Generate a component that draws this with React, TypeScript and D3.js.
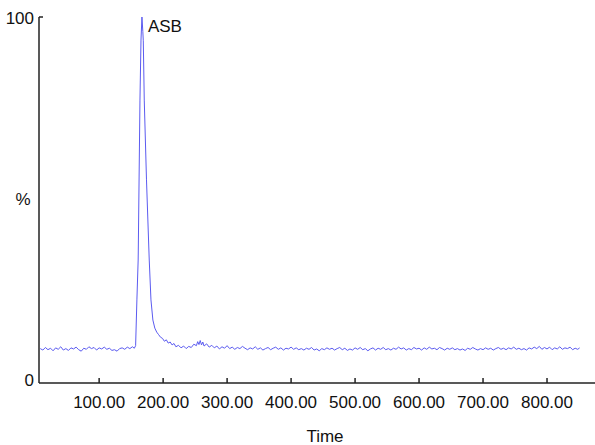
import React from "react";
import * as d3 from "d3";

const times: number[] = [
  8, 12, 16, 20, 24, 28, 32, 36, 40, 44, 48, 52, 56, 60, 64, 68, 72, 76, 80, 84, 88, 92, 96, 100,
  104, 108, 112, 116, 120, 124, 128, 132, 136, 140, 144, 148, 152, 155,
  157, 159, 161, 163.8, 165.4, 166.9, 168.3, 169, 170.5, 174, 178.3, 181, 184, 187, 190, 193, 196,
  199, 202, 205, 208, 211, 214, 217, 220, 224, 228, 232, 236, 240, 244, 248, 252, 254, 256, 258,
  260, 262, 264, 268, 272, 276, 280, 284, 288, 292, 296, 300, 304, 308, 312, 316, 320, 324, 328,
  332, 336, 340, 344, 348, 352, 356, 360, 364, 368, 372, 376, 380, 384, 388, 392, 396, 400, 404,
  408, 412, 416, 420, 424, 428, 432, 436, 440, 444, 448, 452, 456, 460, 464, 468, 472, 476, 480,
  484, 488, 492, 496, 500, 504, 508, 512, 516, 520, 524, 528, 532, 536, 540, 544, 548, 552, 556,
  560, 564, 568, 572, 576, 580, 584, 588, 592, 596, 600, 604, 608, 612, 616, 620, 624, 628, 632,
  636, 640, 644, 648, 652, 656, 660, 664, 668, 672, 676, 680, 684, 688, 692, 696, 700, 704, 708,
  712, 716, 720, 724, 728, 732, 736, 740, 744, 748, 752, 756, 760, 764, 768, 772, 776, 780, 784,
  788, 792, 796, 800, 804, 808, 812, 816, 820, 824, 828, 832, 836, 840, 844, 848, 851,
];

const percents: number[] = [
  9.4, 9.0, 9.7, 9.1, 9.5, 8.8, 9.6, 9.2, 9.9, 9.0, 9.4, 8.9, 9.6, 9.3, 9.8, 9.1, 8.7, 9.5, 9.2, 9.9, 9.4, 9.7, 9.0, 9.6,
  9.3, 9.8, 9.2, 9.5, 8.9, 9.1, 8.7, 9.4, 9.6, 9.2, 9.8, 9.4, 9.9, 9.5,
  10.2, 22.7, 33.6, 77.3, 93.7, 100, 96.0, 93.5, 77.3, 55.5, 33.6, 22.7, 17.2, 15.0, 13.9, 13.2, 12.5,
  12.2, 11.4, 11.8, 10.9, 11.2, 10.4, 10.8, 9.9, 10.3, 9.6, 10.1, 9.4, 10.0, 9.7, 10.6, 10.2, 11.3, 10.5, 11.6,
  10.4, 11.2, 10.1, 10.7, 9.8, 10.3, 9.6, 10.1, 9.3, 9.9, 9.5, 10.2, 9.4, 9.8, 9.2, 9.7, 9.4, 10.0, 9.5,
  9.1, 9.6, 9.3, 9.9, 9.2, 9.6, 9.0, 9.4, 9.7, 9.1, 9.5, 9.8, 9.2, 9.6, 9.0, 9.5, 9.3, 9.8, 9.2,
  9.6, 9.1, 9.4, 9.0, 9.5, 9.2, 9.7, 9.0, 9.3, 8.8, 9.4, 9.1, 9.6, 9.2, 9.5, 9.0, 9.4, 9.7, 9.1,
  9.5, 8.9, 9.3, 9.0, 9.6, 9.2, 9.7, 9.1, 9.4, 8.8, 9.3, 9.6, 9.0, 9.5, 9.2, 9.7, 9.1, 9.4, 9.0,
  9.5, 9.2, 9.8, 9.3, 9.6, 9.0, 9.4, 9.1, 9.7, 9.3, 9.5, 9.0, 9.6, 9.2, 9.8, 9.3, 9.5, 9.1, 9.7,
  9.4, 9.0, 9.5, 9.2, 9.6, 9.1, 9.4, 9.0, 9.3, 8.9, 9.5, 9.2, 9.7, 9.3, 9.0, 9.4, 9.1, 9.6, 9.2,
  9.5, 9.0, 9.4, 9.7, 9.2, 9.5, 9.1, 9.6, 9.3, 9.8, 9.2, 9.5, 9.1, 9.4, 9.0, 9.6, 9.3, 9.8, 9.4,
  10.0, 9.2, 9.7, 9.3, 9.8, 9.1, 9.6, 9.3, 9.9, 9.2, 9.6, 9.4, 9.8, 9.1, 9.5, 9.2, 9.6,
];

const xTicks: number[] = [100, 200, 300, 400, 500, 600, 700, 800];
const yTicks: number[] = [0, 100];
const peakLabel = "ASB";
const xTitle = "Time";
const yTitle = "%";

const W = 595;
const H = 445;
const FONT = "'Liberation Sans', Arial, sans-serif";

export default function App() {
  const x = d3.scaleLinear().domain([6, 875]).range([39, 595]);
  const y = d3.scaleLinear().domain([0, 100]).range([383, 17]);
  const pts: [number, number][] = times.map((t, i) => [t, percents[i]]);
  const line = d3
    .line<[number, number]>()
    .x((d) => x(d[0]))
    .y((d) => y(d[1]));
  const peakIdx = percents.indexOf(d3.max(percents) as number);

  return (
    <svg
      width={W}
      height={H}
      style={{ position: "absolute", left: 0, top: 0, background: "#fff" }}
      fontFamily={FONT}
    >
      <path d={line(pts) || ""} fill="none" stroke="#5b5bf0" strokeWidth={1} />
      {/* axes */}
      <line x1={39} x2={39} y1={y(100)} y2={y(0)} stroke="#222" strokeWidth={1.5} />
      <line x1={39} x2={595} y1={y(0)} y2={y(0)} stroke="#222" strokeWidth={1.5} />
      <line x1={39} x2={43} y1={y(100)} y2={y(100)} stroke="#222" strokeWidth={1.5} />
      {xTicks.map((t) => (
        <g key={t}>
          <line x1={x(t)} x2={x(t)} y1={y(0)} y2={y(0) - 5} stroke="#222" strokeWidth={1.5} />
          <text x={x(t)} y={408} textAnchor="middle" fontSize={17} fill="#111">
            {t.toFixed(2)}
          </text>
        </g>
      ))}
      {yTicks.map((v) => (
        <text key={v} x={34} y={y(v) + (v === 0 ? 3 : 7)} textAnchor="end" fontSize={17} fill="#111">
          {v}
        </text>
      ))}
      <text x={23} y={205} textAnchor="middle" fontSize={17} fill="#111">
        {yTitle}
      </text>
      <text x={325} y={442} textAnchor="middle" fontSize={17} fill="#111">
        {xTitle}
      </text>
      <text x={x(times[peakIdx]) + 6} y={32} fontSize={17} fill="#111">
        {peakLabel}
      </text>
    </svg>
  );
}
